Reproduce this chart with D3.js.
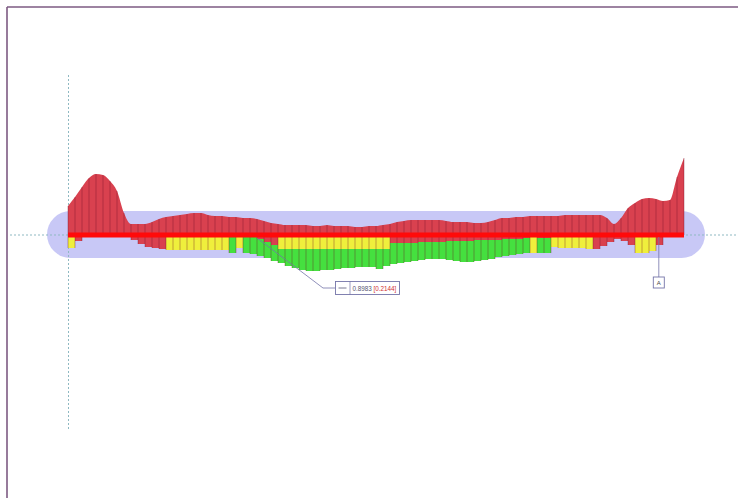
<!DOCTYPE html>
<html>
<head>
<meta charset="utf-8">
<script src="https://cdn.jsdelivr.net/npm/d3@7"></script>
<style>
  html, body { margin: 0; padding: 0; background: #fff; }
  svg { display: block; }
  text { font-family: "Liberation Sans", Arial, sans-serif; }
</style>
</head>
<body>
<svg id="chart" width="738" height="498"></svg>
<script>
// Beam result diagram: envelope above the member axis, checks below it.
// Stations every 0.25 m along a 22 m member.
const stationStep = 0.25;
const memberLength = 22;

// Upper envelope at each station (89 stations)
const upperEnvelope = [
  29, 38, 48, 57, 61, 60, 54, 44, 22, 11,
  11, 11, 13, 16, 18, 19, 20, 21, 22, 22,
  20, 19, 19, 18, 18, 17, 17, 16, 14, 12,
  11, 10, 10, 10, 10, 9, 9, 10, 9, 9,
  9, 8, 8, 9, 9, 10, 11, 13, 14, 15,
  15, 15, 15, 15, 14, 13, 13, 13, 12, 12,
  13, 15, 17, 17, 18, 18, 19, 19, 19, 19,
  19, 20, 20, 20, 20, 20, 20, 17, 11, 17,
  27, 32, 36, 37, 36, 34, 35, 58, 77
];

// Per segment (88 segments) values below the axis
const lowerEnvelope = [
  0, 6, 0, 0, 0, 0, 0, 0, 0, 5,
  9, 12, 13, 14, 0, 0, 0, 0, 0, 0,
  0, 0, 0, 0, 0, 0, 2, 4, 7, 10,
  0, 0, 0, 0, 0, 0, 0, 0, 0, 0,
  0, 0, 0, 0, 0, 0, 8, 8, 8, 8,
  7, 7, 7, 7, 6, 6, 6, 6, 5, 5,
  5, 5, 4, 4, 4, 3, 0, 3, 3, 0,
  0, 0, 0, 0, 0, 14, 11, 7, 4, 6,
  10, 0, 0, 0, 10, 0, 0, 0
];

const yellowCheck = [
  13, 0, 0, 0, 0, 0, 0, 0, 0, 0,
  0, 0, 0, 0, 15, 15, 15, 15, 15, 15,
  15, 15, 15, 0, 13, 0, 0, 0, 0, 0,
  14, 14, 14, 14, 14, 14, 14, 14, 14, 14,
  14, 14, 14, 14, 14, 14, 0, 0, 0, 0,
  0, 0, 0, 0, 0, 0, 0, 0, 0, 0,
  0, 0, 0, 0, 0, 0, 18, 0, 0, 12,
  13, 13, 13, 13, 14, 0, 0, 0, 0, 0,
  0, 18, 18, 16, 0, 0, 0, 0
];

const greenCheck = [
  0, 0, 0, 0, 0, 0, 0, 0, 0, 0,
  0, 0, 0, 0, 0, 0, 0, 0, 0, 0,
  0, 0, 0, 18, 0, 18, 19, 21, 23, 26,
  28, 31, 33, 35, 36, 36, 35, 35, 34, 33,
  33, 32, 32, 32, 34, 31, 29, 28, 27, 26,
  25, 24, 24, 24, 25, 26, 27, 27, 26, 25,
  24, 22, 21, 20, 19, 18, 0, 18, 18, 0,
  0, 0, 0, 0, 0, 0, 0, 0, 0, 0,
  0, 0, 0, 0, 0, 0, 0, 0
];

// Callout labels
const ratioLabel = "0.8983";
const ratioBracket = "[0.2144]";
const ratioAt = 6.75;      // m, where the callout points
const pointLabel = "A";
const pointAt = 21.1;      // m

const stations = d3.range(upperEnvelope.length).map(i => i * stationStep);

const svg = d3.select("#chart");
const x = d3.scaleLinear().domain([0, memberLength]).range([68, 684]);
const y = d3.scaleLinear().domain([-40, 80]).range([275, 155]);

// Frame
svg.append("line").attr("x1", 7).attr("x2", 738).attr("y1", 7).attr("y2", 7)
  .attr("stroke", "#7d5a82").attr("stroke-width", 1.6);
svg.append("line").attr("x1", 7).attr("x2", 7).attr("y1", 7).attr("y2", 498)
  .attr("stroke", "#7d5a82").attr("stroke-width", 1.6);

// Member capsule
const capTop = y(24), capBot = y(-23);
svg.append("rect")
  .attr("x", x(0) - 21).attr("y", capTop)
  .attr("width", x(memberLength) - x(0) + 42).attr("height", capBot - capTop)
  .attr("rx", (capBot - capTop) / 2)
  .attr("fill", "#c8c8f6");

// Reference grid lines
svg.append("line").attr("x1", 10).attr("x2", 738).attr("y1", y(0)).attr("y2", y(0))
  .attr("stroke", "#8fb9c2").attr("stroke-width", 1).attr("stroke-dasharray", "2,2");
svg.append("line").attr("x1", x(0) + 0.5).attr("x2", x(0) + 0.5).attr("y1", 75).attr("y2", 429)
  .attr("stroke", "#8fb9c2").attr("stroke-width", 1).attr("stroke-dasharray", "2,2");

const segs = d3.range(stations.length - 1);

// Green segments
svg.append("g").selectAll("rect").data(segs.filter(i => greenCheck[i] > 0)).join("rect")
  .attr("x", i => x(stations[i])).attr("width", i => x(stations[i + 1]) - x(stations[i]))
  .attr("y", y(0)).attr("height", i => y(-greenCheck[i]) - y(0))
  .attr("fill", "#45e03f");

// Yellow segments
svg.append("g").selectAll("rect").data(segs.filter(i => yellowCheck[i] > 0)).join("rect")
  .attr("x", i => x(stations[i])).attr("width", i => x(stations[i + 1]) - x(stations[i]))
  .attr("y", y(0)).attr("height", i => y(-yellowCheck[i]) - y(0))
  .attr("fill", "#efef3c");

// Red below the axis
svg.append("g").selectAll("rect").data(segs.filter(i => lowerEnvelope[i] > 0)).join("rect")
  .attr("x", i => x(stations[i])).attr("width", i => x(stations[i + 1]) - x(stations[i]))
  .attr("y", y(0)).attr("height", i => y(-lowerEnvelope[i]) - y(0))
  .attr("fill", "#d9414f");

// Red envelope above the axis
const area = d3.area()
  .x((d, i) => x(stations[i]))
  .y0(y(0))
  .y1(d => y(d))
  .curve(d3.curveMonotoneX);
svg.append("path").datum(upperEnvelope).attr("d", area).attr("fill", "#d9414f");

// Station hatch lines
const depthAt = i => {
  const l = i > 0 ? Math.max(lowerEnvelope[i - 1], yellowCheck[i - 1], greenCheck[i - 1]) : 0;
  const r = i < segs.length ? Math.max(lowerEnvelope[i], yellowCheck[i], greenCheck[i]) : 0;
  return Math.max(l, r);
};
svg.append("g").selectAll("line").data(stations).join("line")
  .attr("x1", d => x(d)).attr("x2", d => x(d))
  .attr("y1", (d, i) => y(upperEnvelope[i]))
  .attr("y2", (d, i) => y(-depthAt(i)))
  .attr("stroke", "rgba(110,15,35,0.45)").attr("stroke-width", 0.8);

// Member axis
svg.append("line").attr("x1", x(0)).attr("x2", x(memberLength)).attr("y1", y(0)).attr("y2", y(0))
  .attr("stroke", "#ff0a0a").attr("stroke-width", 5);

// Ratio callout
const leadStroke = "#7474a8";
const bx = 335.5, by = 281.5, bw = 64, bh = 13;
svg.append("polyline")
  .attr("points", [[x(ratioAt), y(-3)], [323, by + bh / 2], [bx, by + bh / 2]].map(p => p.join(",")).join(" "))
  .attr("fill", "none").attr("stroke", leadStroke).attr("stroke-width", 0.8);
svg.append("rect").attr("x", bx).attr("y", by).attr("width", bw).attr("height", bh)
  .attr("fill", "#fff").attr("stroke", leadStroke).attr("stroke-width", 0.9);
svg.append("line").attr("x1", bx + 3).attr("x2", bx + 11).attr("y1", by + bh / 2).attr("y2", by + bh / 2)
  .attr("stroke", "#555577").attr("stroke-width", 0.8);
svg.append("line").attr("x1", bx + 14.5).attr("x2", bx + 14.5).attr("y1", by).attr("y2", by + bh)
  .attr("stroke", leadStroke).attr("stroke-width", 0.7);
const t = svg.append("text").attr("x", bx + 17).attr("y", by + 9.3).attr("font-size", 6.3);
t.append("tspan").attr("fill", "#555570").text(ratioLabel + " ");
t.append("tspan").attr("fill", "#d03030").text(ratioBracket);

// Point marker
const px = x(pointAt);
svg.append("line").attr("x1", px).attr("x2", px).attr("y1", y(-2)).attr("y2", 277)
  .attr("stroke", leadStroke).attr("stroke-width", 0.8);
svg.append("rect").attr("x", px - 5.5).attr("y", 277).attr("width", 11).attr("height", 11)
  .attr("fill", "#fff").attr("stroke", leadStroke).attr("stroke-width", 0.9);
svg.append("text").attr("x", px).attr("y", 285).attr("text-anchor", "middle")
  .attr("font-size", 6).attr("fill", "#444").text(pointLabel);
</script>
</body>
</html>
